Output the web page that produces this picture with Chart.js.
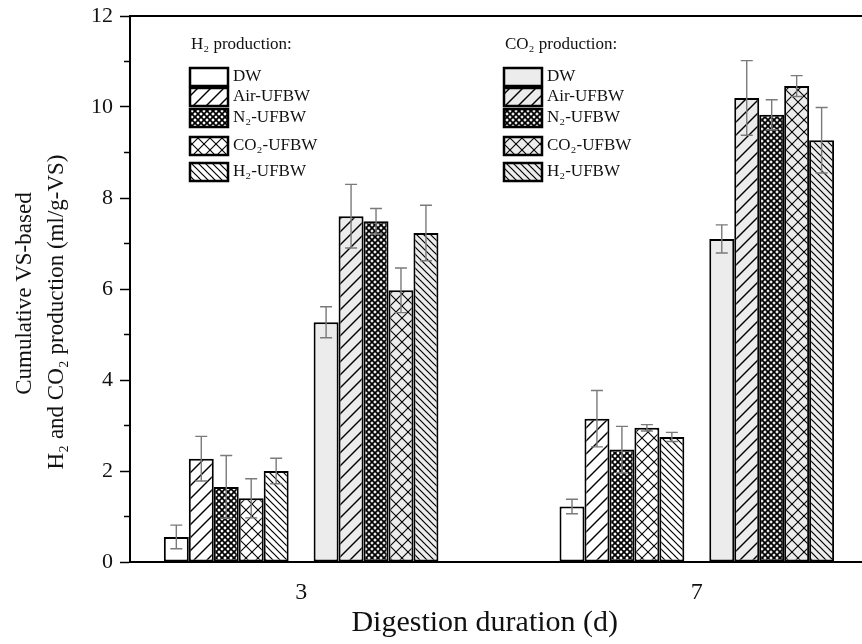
<!DOCTYPE html>
<html>
<head>
<meta charset="utf-8">
<script src="https://cdn.jsdelivr.net/npm/chart.js@4.4.1/dist/chart.umd.min.js"></script>
<style>
  html, body { margin: 0; padding: 0; background: #fff; }
  #wrap { width: 862px; height: 644px; overflow: hidden; }
</style>
</head>
<body>
<div id="wrap"><canvas id="chart" width="862" height="644"></canvas></div>
<script>
const durations = [3, 7];
const seriesNames = ['DW', 'Air-UFBW', 'N₂-UFBW', 'CO₂-UFBW', 'H₂-UFBW'];
const patternTypes = ['none', 'slash', 'mesh', 'cross', 'backslash'];
// one row per series, one column per duration (3 d, 7 d)
const h2Means = [[0.55, 1.22], [2.27, 3.15], [1.65, 2.47], [1.40, 2.95], [2.00, 2.75]];
const h2Errors = [[0.26, 0.16], [0.49, 0.62], [0.69, 0.51], [0.43, 0.07], [0.28, 0.10]];
const co2Means = [[5.27, 7.10], [7.60, 10.20], [7.49, 9.83], [5.97, 10.46], [7.23, 9.27]];
const co2Errors = [[0.34, 0.31], [0.70, 0.82], [0.28, 0.33], [0.49, 0.23], [0.61, 0.72]];
const yTicks = [0, 2, 4, 6, 8, 10, 12];

const FONT = "'Liberation Serif', 'Times New Roman', serif";
const H2_FILL = '#ffffff';
const CO2_FILL = '#ececec';

function makePattern(type, bg) {
  if (type === 'none') return bg;
  const size = { slash: 13, mesh: 6, cross: 12, backslash: 7 }[type];
  const c = document.createElement('canvas');
  c.width = c.height = size;
  const g = c.getContext('2d');
  g.fillStyle = bg;
  g.fillRect(0, 0, size, size);
  g.strokeStyle = '#000';
  g.lineWidth = { slash: 1.4, mesh: 1.7, cross: 1.1, backslash: 1.2 }[type];
  const line = (x0, y0, x1, y1) => { g.beginPath(); g.moveTo(x0, y0); g.lineTo(x1, y1); g.stroke(); };
  if (type !== 'backslash') {
    line(-1, size + 1, size + 1, -1);
    line(-1, 1, 1, -1);
    line(size - 1, size + 1, size + 1, size - 1);
  }
  if (type !== 'slash') {
    line(-1, -1, size + 1, size + 1);
    line(size - 1, -1, size + 1, 1);
    line(-1, size - 1, 1, size + 1);
  }
  return g.createPattern(c, 'repeat');
}

function makeSet(gas, i, means, errors, fill) {
  return {
    label: seriesNames[i],
    gas: gas,
    data: durations.map((d, j) => ({ x: d, y: means[i][j] })),
    errors: errors[i],
    backgroundColor: makePattern(patternTypes[i], fill),
    borderColor: '#000',
    borderWidth: 2,
    borderSkipped: false,
    categoryPercentage: 0.694,
    barPercentage: 1
  };
}

const datasets = [];
seriesNames.forEach((n, i) => datasets.push(makeSet('H2', i, h2Means, h2Errors, H2_FILL)));
// empty slot between the H2 and CO2 groups
datasets.push({ label: '', data: durations.map(d => ({ x: d, y: null })), categoryPercentage: 0.694, barPercentage: 1 });
seriesNames.forEach((n, i) => datasets.push(makeSet('CO2', i, co2Means, co2Errors, CO2_FILL)));

const errorBars = {
  id: 'errorBars',
  afterDatasetsDraw(chart) {
    const ctx = chart.ctx;
    const y = chart.scales.y;
    ctx.save();
    ctx.strokeStyle = '#7a7a7a';
    ctx.lineWidth = 1.4;
    chart.data.datasets.forEach((ds, i) => {
      if (!ds.errors) return;
      chart.getDatasetMeta(i).data.forEach((bar, j) => {
        const v = ds.data[j].y, e = ds.errors[j];
        const top = y.getPixelForValue(v + e), bot = y.getPixelForValue(v - e);
        ctx.beginPath();
        ctx.moveTo(bar.x, top); ctx.lineTo(bar.x, bot);
        ctx.moveTo(bar.x - 6, top); ctx.lineTo(bar.x + 6, top);
        ctx.moveTo(bar.x - 6, bot); ctx.lineTo(bar.x + 6, bot);
        ctx.stroke();
      });
    });
    ctx.restore();
  }
};

const frame = {
  id: 'frame',
  afterDraw(chart) {
    const { ctx, chartArea: a, scales: { y } } = chart;
    ctx.save();
    ctx.strokeStyle = '#000';
    ctx.lineWidth = 2;
    ctx.beginPath();
    ctx.moveTo(a.left - 1, a.top);
    ctx.lineTo(a.right + 2, a.top);
    ctx.stroke();
    // minor ticks
    ctx.lineWidth = 1.5;
    ctx.beginPath();
    for (let v = 1; v < 12; v += 2) {
      const p = y.getPixelForValue(v);
      ctx.moveTo(a.left - 6, p);
      ctx.lineTo(a.left, p);
    }
    ctx.stroke();
    ctx.restore();
  }
};

const legendBoxes = {
  id: 'legendBoxes',
  afterDraw(chart) {
    const ctx = chart.ctx;
    const rows = [77, 97, 118, 146, 172];
    const cols = { H2: { x: 190, title: 'H₂ production:' }, CO2: { x: 504, title: 'CO₂ production:' } };
    ctx.save();
    ctx.textBaseline = 'middle';
    ctx.textAlign = 'left';
    ctx.font = '17px ' + FONT;
    Object.keys(cols).forEach(gas => {
      const c = cols[gas];
      ctx.fillStyle = '#111';
      ctx.fillText(c.title, c.x + 1, 45);
      chart.data.datasets.filter(ds => ds.gas === gas).forEach((ds, k) => {
        const cy = rows[k];
        ctx.fillStyle = ds.backgroundColor;
        ctx.fillRect(c.x, cy - 9, 38, 18);
        ctx.strokeStyle = '#000';
        ctx.lineWidth = 2.5;
        ctx.strokeRect(c.x, cy - 9, 38, 18);
        ctx.fillStyle = '#111';
        ctx.fillText(ds.label, c.x + 43, cy);
      });
    });
    ctx.restore();
  }
};

new Chart(document.getElementById('chart'), {
  type: 'bar',
  data: { datasets },
  options: {
    responsive: false,
    animation: false,
    devicePixelRatio: 1,
    layout: { padding: { top: 16, right: 0, left: 0, bottom: 0 } },
    plugins: { legend: { display: false }, tooltip: { enabled: false } },
    scales: {
      x: {
        type: 'linear',
        min: 1.27,
        max: 8.67,
        offset: false,
        afterBuildTicks: s => { s.ticks = durations.map(v => ({ value: v })); },
        afterFit: s => { s.height = 82; s.paddingLeft = 0; s.paddingRight = 0; },
        grid: { display: false, drawTicks: false },
        border: { display: true, color: '#000', width: 2 },
        ticks: { font: { family: FONT, size: 24 }, color: '#111', padding: 16 },
        title: {
          display: true,
          text: 'Digestion duration (d)   ',
          font: { family: FONT, size: 30 },
          color: '#111',
          padding: { top: 0, bottom: 3 }
        }
      },
      y: {
        min: 0,
        max: 12,
        afterBuildTicks: s => { s.ticks = yTicks.map(v => ({ value: v })); },
        afterFit: s => { s.width = 130; s.paddingTop = 0; s.paddingBottom = 0; },
        grid: { drawOnChartArea: false, drawTicks: true, tickLength: 10, tickColor: '#000', tickWidth: 1.5 },
        border: { display: true, color: '#000', width: 2 },
        ticks: { font: { family: FONT, size: 22 }, color: '#111', padding: 7 },
        title: {
          display: true,
          text: ['Cumulative VS-based\u2009\u2009', 'H₂ and CO₂ production (ml/g-VS)\u2002\u2002\u2002\u2002'],
          font: { family: FONT, size: 23, lineHeight: 1.39 },
          color: '#111',
          padding: { top: 9, bottom: 0 }
        }
      }
    }
  },
  plugins: [errorBars, frame, legendBoxes]
});
</script>
</body>
</html>
